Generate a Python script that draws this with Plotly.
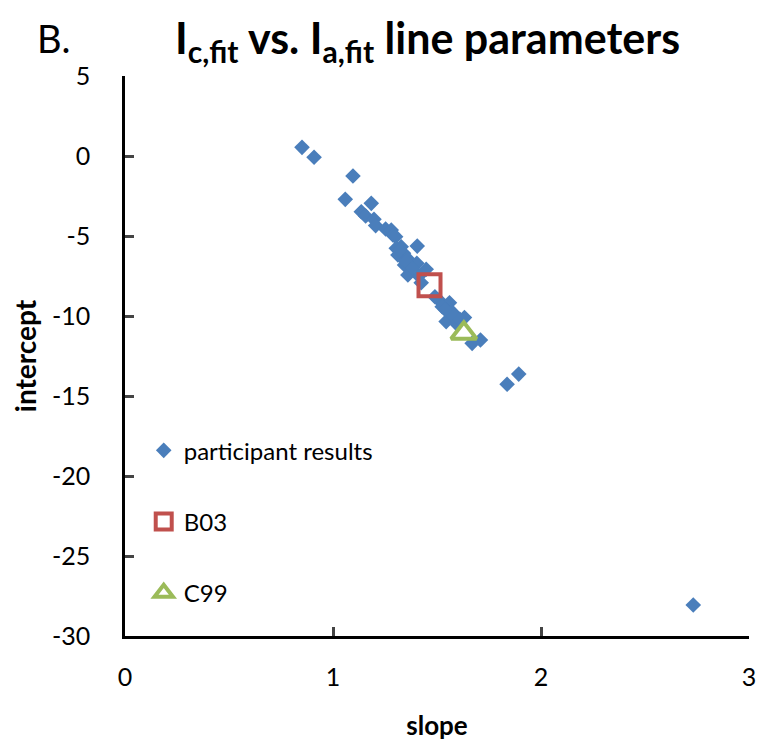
import plotly.graph_objects as go

# participant results (slope, intercept)
part_slope = [0.851, 0.909, 1.096, 1.059, 1.184, 1.136, 1.157, 1.197, 1.205, 1.253,
              1.280, 1.288, 1.301, 1.405, 1.304, 1.328, 1.339, 1.312, 1.357, 1.403,
              1.344, 1.448, 1.360, 1.413, 1.424, 1.509, 1.560, 1.525, 1.576, 1.632,
              1.544, 1.592, 1.709, 1.669, 1.893, 1.837, 2.732,
              1.320, 1.350, 1.380, 1.490, 1.580, 1.610, 1.540]
part_intercept = [0.54, -0.08, -1.25, -2.71, -2.96, -3.48, -3.75, -3.96, -4.35, -4.56,
                  -4.63, -4.94, -5.04, -5.63, -5.77, -5.67, -6.08, -6.19, -6.40, -6.71,
                  -6.81, -7.08, -7.44, -7.50, -7.92, -9.00, -9.17, -9.42, -9.79, -10.10,
                  -10.35, -10.46, -11.50, -11.71, -13.63, -14.27, -28.06,
                  -5.90, -6.60, -7.00, -8.80, -10.00, -10.20, -9.60]
b03_slope = [1.464]
b03_intercept = [-8.08]
c99_slope = [1.629]
c99_intercept = [-11.08]

x_ticks = [0, 1, 2, 3]
x_labels = ["0", "1", "2", "3"]
y_ticks = [5, 0, -5, -10, -15, -20, -25, -30]
y_labels = ["5", "0", "-5", "-10", "-15", "-20", "-25", "-30"]

FONT = "Lato"
fig = go.Figure()
fig.add_trace(go.Scatter(x=part_slope, y=part_intercept, mode="markers",
                         name="participant results", legendgroup="a",
                         marker=dict(symbol="diamond", size=12, color="#4a7ebb")))
fig.add_trace(go.Scatter(x=b03_slope, y=b03_intercept, mode="markers",
                         name="B03", legendgroup="b",
                         marker=dict(symbol="square-open", size=22, color="#c0504d",
                                     line=dict(width=4, color="#c0504d"))))
fig.add_trace(go.Scatter(x=c99_slope, y=c99_intercept, mode="markers",
                         name="C99", legendgroup="c",
                         marker=dict(symbol="triangle-up-open", size=22, color="#9bbb59",
                                     line=dict(width=4, color="#9bbb59"))))

PW, PH = 624, 560  # plot area size in px (left 125, top 76)
fig.update_layout(
    width=760, height=741,
    margin=dict(l=125, r=11, t=76, b=105, autoexpand=False),
    paper_bgcolor="white", plot_bgcolor="white",
    font=dict(family=FONT, size=22, color="black"),
    showlegend=True,
    legend=dict(x=0.03, y=0.371, xanchor="left", yanchor="top",
                font=dict(size=24, family=FONT), tracegroupgap=37,
                traceorder="grouped", bgcolor="rgba(0,0,0,0)"),
    xaxis=dict(range=[0, 3], tickvals=x_ticks, ticktext=x_labels, ticks="inside",
               ticklen=9, tickwidth=2.5, automargin=False,
               showline=True, linewidth=2.5, linecolor="black", showgrid=False,
               zeroline=False, tickfont=dict(size=25), ticklabelstandoff=17,
               title=dict(text="<b>slope</b>", font=dict(size=26), standoff=29)),
    yaxis=dict(range=[-30, 5], tickvals=y_ticks, ticktext=y_labels, ticks="inside",
               ticklen=9, tickwidth=2.5, automargin=False,
               showline=True, linewidth=2.5, linecolor="black", showgrid=False,
               zeroline=False, tickfont=dict(size=25), ticklabelstandoff=27,
               title=dict(text="<b>intercept</b>", font=dict(size=28), standoff=8)),
    annotations=[
        dict(text="B.", x=(35 - 125) / PW, y=(636 - 38) / PH, xref="paper", yref="paper",
             showarrow=False, font=dict(size=38, family=FONT),
             xanchor="left", yanchor="middle"),
        dict(text="<b>I<sub>c,fit</sub> vs. I<sub>a,fit</sub> line parameters</b>",
             x=(427 - 125) / PW, y=(636 - 40) / PH, xref="paper", yref="paper",
             showarrow=False, font=dict(size=43, family=FONT),
             xanchor="center", yanchor="middle"),
    ],
)
fig.write_html("out.html")
